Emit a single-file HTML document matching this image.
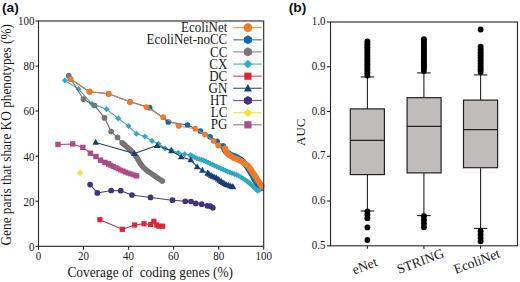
<!DOCTYPE html>
<html><head><meta charset="utf-8"><style>
html,body{margin:0;padding:0;background:#fff;}
svg{display:block;}
text{font-family:"Liberation Serif",serif;fill:#1a1a1a;}
.tk{font-size:11px;}
.lg{font-size:13px;}
.xl{font-size:13.6px;}
.ttl{font-size:13.5px;}
.pl{font-family:"Liberation Sans",sans-serif;font-weight:bold;font-size:13.8px;fill:#111;}
</style></head><body>
<svg width="520" height="282" viewBox="0 0 520 282">
<rect width="520" height="282" fill="#fff"/>
<text transform="translate(1.9 11.5) scale(1 0.95)" class="pl">(a)</text>
<text transform="translate(288.7 11.5) scale(1 0.95)" class="pl">(b)</text>
<polyline points="70.5,79.0 89.5,91.7 108.6,93.8 130.0,101.8 149.5,107.6 168.3,122.0 187.5,125.1 200.4,131.0 210.0,136.8 217.1,141.4 223.0,146.2 225.6,151.5 231.0,154.8 236.0,156.6 241.0,159.6 246.0,164.8 249.2,170.0 252.2,174.8 256.0,182.0 259.3,187.0 261.0,188.5" fill="none" stroke="#1d5a8c" stroke-width="1.05" stroke-linejoin="round"/>
<circle cx="70.5" cy="79.0" r="2.85" fill="#1267a8"/>
<circle cx="89.5" cy="91.7" r="2.85" fill="#1267a8"/>
<circle cx="108.6" cy="93.8" r="2.85" fill="#1267a8"/>
<circle cx="130.0" cy="101.8" r="2.85" fill="#1267a8"/>
<circle cx="149.5" cy="107.6" r="2.85" fill="#1267a8"/>
<circle cx="168.3" cy="122.0" r="2.85" fill="#1267a8"/>
<circle cx="187.5" cy="125.1" r="2.85" fill="#1267a8"/>
<circle cx="200.4" cy="131.0" r="2.85" fill="#1267a8"/>
<circle cx="210.0" cy="136.8" r="2.85" fill="#1267a8"/>
<circle cx="217.1" cy="141.4" r="2.85" fill="#1267a8"/>
<circle cx="223.0" cy="146.2" r="2.85" fill="#1267a8"/>
<circle cx="223.0" cy="146.2" r="2.85" fill="#1267a8"/>
<circle cx="223.7" cy="147.6" r="2.85" fill="#1267a8"/>
<circle cx="224.4" cy="149.1" r="2.85" fill="#1267a8"/>
<circle cx="225.1" cy="150.5" r="2.85" fill="#1267a8"/>
<circle cx="226.0" cy="151.8" r="2.85" fill="#1267a8"/>
<circle cx="227.4" cy="152.6" r="2.85" fill="#1267a8"/>
<circle cx="228.8" cy="153.4" r="2.85" fill="#1267a8"/>
<circle cx="230.1" cy="154.3" r="2.85" fill="#1267a8"/>
<circle cx="231.5" cy="155.0" r="2.85" fill="#1267a8"/>
<circle cx="233.0" cy="155.5" r="2.85" fill="#1267a8"/>
<circle cx="234.5" cy="156.1" r="2.85" fill="#1267a8"/>
<circle cx="236.0" cy="156.6" r="2.85" fill="#1267a8"/>
<circle cx="237.4" cy="157.5" r="2.85" fill="#1267a8"/>
<circle cx="238.8" cy="158.3" r="2.85" fill="#1267a8"/>
<circle cx="240.2" cy="159.1" r="2.85" fill="#1267a8"/>
<circle cx="241.4" cy="160.0" r="2.85" fill="#1267a8"/>
<circle cx="242.5" cy="161.2" r="2.85" fill="#1267a8"/>
<circle cx="243.6" cy="162.4" r="2.85" fill="#1267a8"/>
<circle cx="244.8" cy="163.5" r="2.85" fill="#1267a8"/>
<circle cx="245.9" cy="164.7" r="2.85" fill="#1267a8"/>
<circle cx="246.7" cy="166.0" r="2.85" fill="#1267a8"/>
<circle cx="247.6" cy="167.4" r="2.85" fill="#1267a8"/>
<circle cx="248.4" cy="168.7" r="2.85" fill="#1267a8"/>
<circle cx="249.3" cy="170.1" r="2.85" fill="#1267a8"/>
<circle cx="250.1" cy="171.4" r="2.85" fill="#1267a8"/>
<circle cx="251.0" cy="172.8" r="2.85" fill="#1267a8"/>
<circle cx="251.8" cy="174.2" r="2.85" fill="#1267a8"/>
<circle cx="252.6" cy="175.5" r="2.85" fill="#1267a8"/>
<circle cx="253.3" cy="177.0" r="2.85" fill="#1267a8"/>
<circle cx="254.1" cy="178.4" r="2.85" fill="#1267a8"/>
<circle cx="254.8" cy="179.8" r="2.85" fill="#1267a8"/>
<circle cx="255.6" cy="181.2" r="2.85" fill="#1267a8"/>
<circle cx="256.4" cy="182.6" r="2.85" fill="#1267a8"/>
<circle cx="257.3" cy="183.9" r="2.85" fill="#1267a8"/>
<circle cx="258.1" cy="185.3" r="2.85" fill="#1267a8"/>
<circle cx="259.0" cy="186.6" r="2.85" fill="#1267a8"/>
<circle cx="260.1" cy="187.7" r="2.85" fill="#1267a8"/>
<circle cx="261.0" cy="188.5" r="2.85" fill="#1267a8"/>
<polyline points="64.9,80.4 78.6,89.1 91.8,103.8 106.6,109.3 118.3,118.4 128.5,126.1 136.5,133.8 145.0,136.6 152.0,141.0 158.5,143.8 165.2,148.4 171.1,150.0 178.3,152.7 184.7,154.3 190.3,155.2 195.0,157.6 205.6,161.2 216.3,166.5 226.9,171.2 237.9,175.3 246.6,180.7 252.8,186.2 257.8,191.2 261.0,188.3" fill="none" stroke="#38a0b4" stroke-width="1.05" stroke-linejoin="round"/>
<path d="M64.9 77.4L67.9 80.4L64.9 83.4L61.9 80.4Z" fill="#30aac0"/>
<path d="M78.6 86.1L81.6 89.1L78.6 92.1L75.6 89.1Z" fill="#30aac0"/>
<path d="M91.8 100.8L94.8 103.8L91.8 106.8L88.8 103.8Z" fill="#30aac0"/>
<path d="M106.6 106.3L109.6 109.3L106.6 112.3L103.6 109.3Z" fill="#30aac0"/>
<path d="M118.3 115.4L121.3 118.4L118.3 121.4L115.3 118.4Z" fill="#30aac0"/>
<path d="M128.5 123.1L131.5 126.1L128.5 129.1L125.5 126.1Z" fill="#30aac0"/>
<path d="M136.5 130.8L139.5 133.8L136.5 136.8L133.5 133.8Z" fill="#30aac0"/>
<path d="M145.0 133.6L148.0 136.6L145.0 139.6L142.0 136.6Z" fill="#30aac0"/>
<path d="M152.0 138.0L155.0 141.0L152.0 144.0L149.0 141.0Z" fill="#30aac0"/>
<path d="M158.5 140.8L161.5 143.8L158.5 146.8L155.5 143.8Z" fill="#30aac0"/>
<path d="M165.2 145.4L168.2 148.4L165.2 151.4L162.2 148.4Z" fill="#30aac0"/>
<path d="M171.1 147.0L174.1 150.0L171.1 153.0L168.1 150.0Z" fill="#30aac0"/>
<path d="M178.3 149.7L181.3 152.7L178.3 155.7L175.3 152.7Z" fill="#30aac0"/>
<path d="M184.7 151.3L187.7 154.3L184.7 157.3L181.7 154.3Z" fill="#30aac0"/>
<path d="M190.3 152.2L193.3 155.2L190.3 158.2L187.3 155.2Z" fill="#30aac0"/>
<path d="M190.3 152.2L193.2 155.2L190.3 158.1L187.4 155.2Z" fill="#30aac0"/>
<path d="M192.4 153.3L195.4 156.3L192.4 159.2L189.5 156.3Z" fill="#30aac0"/>
<path d="M194.6 154.4L197.5 157.4L194.6 160.3L191.6 157.4Z" fill="#30aac0"/>
<path d="M196.8 155.3L199.8 158.2L196.8 161.2L193.9 158.2Z" fill="#30aac0"/>
<path d="M199.1 156.0L202.0 159.0L199.1 161.9L196.1 159.0Z" fill="#30aac0"/>
<path d="M201.4 156.8L204.3 159.8L201.4 162.7L198.4 159.8Z" fill="#30aac0"/>
<path d="M203.6 157.6L206.6 160.5L203.6 163.5L200.7 160.5Z" fill="#30aac0"/>
<path d="M205.9 158.4L208.8 161.3L205.9 164.3L202.9 161.3Z" fill="#30aac0"/>
<path d="M208.0 159.5L211.0 162.4L208.0 165.4L205.1 162.4Z" fill="#30aac0"/>
<path d="M210.2 160.5L213.1 163.5L210.2 166.4L207.2 163.5Z" fill="#30aac0"/>
<path d="M212.3 161.6L215.3 164.5L212.3 167.5L209.4 164.5Z" fill="#30aac0"/>
<path d="M214.5 162.7L217.4 165.6L214.5 168.6L211.5 165.6Z" fill="#30aac0"/>
<path d="M216.7 163.7L219.6 166.7L216.7 169.6L213.7 166.7Z" fill="#30aac0"/>
<path d="M218.8 164.7L221.8 167.6L218.8 170.6L215.9 167.6Z" fill="#30aac0"/>
<path d="M221.0 165.7L224.0 168.6L221.0 171.6L218.1 168.6Z" fill="#30aac0"/>
<path d="M223.2 166.6L226.2 169.6L223.2 172.5L220.3 169.6Z" fill="#30aac0"/>
<path d="M225.4 167.6L228.4 170.5L225.4 173.5L222.5 170.5Z" fill="#30aac0"/>
<path d="M227.6 168.5L230.6 171.5L227.6 174.4L224.7 171.5Z" fill="#30aac0"/>
<path d="M229.9 169.4L232.8 172.3L229.9 175.3L226.9 172.3Z" fill="#30aac0"/>
<path d="M232.1 170.2L235.1 173.2L232.1 176.1L229.2 173.2Z" fill="#30aac0"/>
<path d="M234.4 171.0L237.3 174.0L234.4 176.9L231.4 174.0Z" fill="#30aac0"/>
<path d="M236.6 171.9L239.6 174.8L236.6 177.8L233.7 174.8Z" fill="#30aac0"/>
<path d="M238.8 172.9L241.7 175.9L238.8 178.8L235.8 175.9Z" fill="#30aac0"/>
<path d="M240.8 174.2L243.8 177.1L240.8 180.1L237.9 177.1Z" fill="#30aac0"/>
<path d="M242.9 175.4L245.8 178.4L242.9 181.3L239.9 178.4Z" fill="#30aac0"/>
<path d="M244.9 176.7L247.9 179.7L244.9 182.6L242.0 179.7Z" fill="#30aac0"/>
<path d="M246.9 178.0L249.9 181.0L246.9 183.9L244.0 181.0Z" fill="#30aac0"/>
<path d="M248.7 179.6L251.7 182.6L248.7 185.5L245.8 182.6Z" fill="#30aac0"/>
<path d="M250.5 181.2L253.4 184.2L250.5 187.1L247.5 184.2Z" fill="#30aac0"/>
<path d="M252.3 182.8L255.2 185.8L252.3 188.7L249.3 185.8Z" fill="#30aac0"/>
<path d="M254.0 184.5L257.0 187.4L254.0 190.4L251.1 187.4Z" fill="#30aac0"/>
<path d="M255.7 186.2L258.7 189.1L255.7 192.1L252.8 189.1Z" fill="#30aac0"/>
<path d="M257.4 187.9L260.4 190.8L257.4 193.8L254.5 190.8Z" fill="#30aac0"/>
<path d="M259.2 187.0L262.1 190.0L259.2 192.9L256.2 190.0Z" fill="#30aac0"/>
<path d="M261.0 185.4L263.9 188.3L261.0 191.3L258.0 188.3Z" fill="#30aac0"/>
<path d="M261.0 185.4L263.9 188.3L261.0 191.2L258.1 188.3Z" fill="#30aac0"/>
<polyline points="68.7,75.7 83.5,99.2 94.5,105.5 104.5,117.9 111.1,131.6 117.5,137.4 122.0,142.7 126.0,146.0 131.0,150.5 136.0,156.2 142.1,166.1 147.0,170.5 152.0,174.0 157.0,177.5 162.3,181.0" fill="none" stroke="#666466" stroke-width="1.05" stroke-linejoin="round"/>
<circle cx="68.7" cy="75.7" r="2.85" fill="#787479"/>
<circle cx="83.5" cy="99.2" r="2.85" fill="#787479"/>
<circle cx="94.5" cy="105.5" r="2.85" fill="#787479"/>
<circle cx="104.5" cy="117.9" r="2.85" fill="#787479"/>
<circle cx="111.1" cy="131.6" r="2.85" fill="#787479"/>
<circle cx="117.5" cy="137.4" r="2.85" fill="#787479"/>
<circle cx="122.0" cy="142.7" r="2.65" fill="#787479"/>
<circle cx="123.2" cy="143.7" r="2.65" fill="#787479"/>
<circle cx="124.5" cy="144.7" r="2.65" fill="#787479"/>
<circle cx="125.7" cy="145.8" r="2.65" fill="#787479"/>
<circle cx="126.9" cy="146.8" r="2.65" fill="#787479"/>
<circle cx="128.1" cy="147.9" r="2.65" fill="#787479"/>
<circle cx="129.3" cy="149.0" r="2.65" fill="#787479"/>
<circle cx="130.5" cy="150.0" r="2.65" fill="#787479"/>
<circle cx="131.6" cy="151.2" r="2.65" fill="#787479"/>
<circle cx="132.6" cy="152.4" r="2.65" fill="#787479"/>
<circle cx="133.7" cy="153.6" r="2.65" fill="#787479"/>
<circle cx="134.8" cy="154.8" r="2.65" fill="#787479"/>
<circle cx="135.8" cy="156.0" r="2.65" fill="#787479"/>
<circle cx="136.7" cy="157.3" r="2.65" fill="#787479"/>
<circle cx="137.5" cy="158.7" r="2.65" fill="#787479"/>
<circle cx="138.4" cy="160.0" r="2.65" fill="#787479"/>
<circle cx="139.2" cy="161.4" r="2.65" fill="#787479"/>
<circle cx="140.0" cy="162.8" r="2.65" fill="#787479"/>
<circle cx="140.9" cy="164.1" r="2.65" fill="#787479"/>
<circle cx="141.7" cy="165.5" r="2.65" fill="#787479"/>
<circle cx="142.8" cy="166.7" r="2.65" fill="#787479"/>
<circle cx="143.9" cy="167.8" r="2.65" fill="#787479"/>
<circle cx="145.1" cy="168.8" r="2.65" fill="#787479"/>
<circle cx="146.3" cy="169.9" r="2.65" fill="#787479"/>
<circle cx="147.6" cy="170.9" r="2.65" fill="#787479"/>
<circle cx="148.9" cy="171.8" r="2.65" fill="#787479"/>
<circle cx="150.2" cy="172.7" r="2.65" fill="#787479"/>
<circle cx="151.5" cy="173.6" r="2.65" fill="#787479"/>
<circle cx="152.8" cy="174.6" r="2.65" fill="#787479"/>
<circle cx="154.1" cy="175.5" r="2.65" fill="#787479"/>
<circle cx="155.4" cy="176.4" r="2.65" fill="#787479"/>
<circle cx="156.7" cy="177.3" r="2.65" fill="#787479"/>
<circle cx="158.1" cy="178.2" r="2.65" fill="#787479"/>
<circle cx="159.4" cy="179.1" r="2.65" fill="#787479"/>
<circle cx="160.7" cy="180.0" r="2.65" fill="#787479"/>
<circle cx="162.1" cy="180.9" r="2.65" fill="#787479"/>
<circle cx="162.3" cy="181.0" r="2.65" fill="#787479"/>
<polyline points="95.7,142.4 134.3,153.6 157.1,145.5 171.4,150.8 181.2,156.9 190.8,159.8 197.2,166.8 202.4,170.4 207.8,173.2 211.8,176.0 216.3,177.8 220.3,181.0 226.3,184.6 233.1,186.9" fill="none" stroke="#1f3d66" stroke-width="1.05" stroke-linejoin="round"/>
<path d="M95.7 138.8L99.0 144.8L92.4 144.8Z" fill="#173f74"/>
<path d="M134.3 150.0L137.6 156.0L131.0 156.0Z" fill="#173f74"/>
<path d="M157.1 141.9L160.4 147.9L153.8 147.9Z" fill="#173f74"/>
<path d="M171.4 147.2L174.7 153.2L168.1 153.2Z" fill="#173f74"/>
<path d="M181.2 153.3L184.5 159.3L177.9 159.3Z" fill="#173f74"/>
<path d="M190.8 156.2L194.1 162.2L187.5 162.2Z" fill="#173f74"/>
<path d="M197.2 163.2L200.5 169.2L193.9 169.2Z" fill="#173f74"/>
<path d="M202.4 166.8L205.7 172.8L199.1 172.8Z" fill="#173f74"/>
<path d="M207.8 169.6L211.1 175.6L204.5 175.6Z" fill="#173f74"/>
<path d="M207.8 169.7L211.0 175.5L204.6 175.5Z" fill="#173f74"/>
<path d="M209.4 170.9L212.6 176.7L206.2 176.7Z" fill="#173f74"/>
<path d="M211.1 172.0L214.3 177.8L207.9 177.8Z" fill="#173f74"/>
<path d="M212.8 173.0L216.0 178.7L209.6 178.7Z" fill="#173f74"/>
<path d="M214.7 173.7L217.9 179.5L211.5 179.5Z" fill="#173f74"/>
<path d="M216.5 174.5L219.7 180.3L213.3 180.3Z" fill="#173f74"/>
<path d="M218.1 175.8L221.3 181.5L214.9 181.5Z" fill="#173f74"/>
<path d="M219.6 177.0L222.8 182.8L216.4 182.8Z" fill="#173f74"/>
<path d="M221.3 178.1L224.5 183.9L218.1 183.9Z" fill="#173f74"/>
<path d="M223.0 179.2L226.2 184.9L219.8 184.9Z" fill="#173f74"/>
<path d="M224.7 180.2L227.9 186.0L221.5 186.0Z" fill="#173f74"/>
<path d="M226.4 181.2L229.6 187.0L223.2 187.0Z" fill="#173f74"/>
<path d="M228.3 181.8L231.5 187.6L225.1 187.6Z" fill="#173f74"/>
<path d="M230.2 182.5L233.4 188.2L227.0 188.2Z" fill="#173f74"/>
<path d="M232.1 183.1L235.3 188.9L228.9 188.9Z" fill="#173f74"/>
<path d="M233.1 183.4L236.3 189.2L229.9 189.2Z" fill="#173f74"/>
<polyline points="70.5,79.0 89.5,91.7 108.6,93.8 130.0,101.8 146.5,107.0 163.2,117.2 178.7,125.9 195.2,128.7 205.0,134.5 213.6,140.8 218.2,145.4 225.1,148.3 227.2,153.5 233.0,157.5 237.7,159.5 242.0,161.5 247.5,165.3 250.5,169.0 253.3,173.1 258.2,181.0 261.8,186.0" fill="none" stroke="#dc8446" stroke-width="1.05" stroke-linejoin="round"/>
<circle cx="70.5" cy="79.0" r="2.85" fill="#ef7b28"/>
<circle cx="89.5" cy="91.7" r="2.85" fill="#ef7b28"/>
<circle cx="108.6" cy="93.8" r="2.85" fill="#ef7b28"/>
<circle cx="130.0" cy="101.8" r="2.85" fill="#ef7b28"/>
<circle cx="146.5" cy="107.0" r="2.85" fill="#ef7b28"/>
<circle cx="163.2" cy="117.2" r="2.85" fill="#ef7b28"/>
<circle cx="178.7" cy="125.9" r="2.85" fill="#ef7b28"/>
<circle cx="195.2" cy="128.7" r="2.85" fill="#ef7b28"/>
<circle cx="205.0" cy="134.5" r="2.85" fill="#ef7b28"/>
<circle cx="213.6" cy="140.8" r="2.85" fill="#ef7b28"/>
<circle cx="218.2" cy="145.4" r="2.85" fill="#ef7b28"/>
<circle cx="225.1" cy="148.3" r="2.85" fill="#ef7b28"/>
<circle cx="225.1" cy="148.3" r="2.85" fill="#ef7b28"/>
<circle cx="225.7" cy="149.8" r="2.85" fill="#ef7b28"/>
<circle cx="226.3" cy="151.3" r="2.85" fill="#ef7b28"/>
<circle cx="226.9" cy="152.8" r="2.85" fill="#ef7b28"/>
<circle cx="227.9" cy="153.9" r="2.85" fill="#ef7b28"/>
<circle cx="229.2" cy="154.9" r="2.85" fill="#ef7b28"/>
<circle cx="230.5" cy="155.8" r="2.85" fill="#ef7b28"/>
<circle cx="231.8" cy="156.7" r="2.85" fill="#ef7b28"/>
<circle cx="233.1" cy="157.6" r="2.85" fill="#ef7b28"/>
<circle cx="234.6" cy="158.2" r="2.85" fill="#ef7b28"/>
<circle cx="236.1" cy="158.8" r="2.85" fill="#ef7b28"/>
<circle cx="237.6" cy="159.4" r="2.85" fill="#ef7b28"/>
<circle cx="239.0" cy="160.1" r="2.85" fill="#ef7b28"/>
<circle cx="240.5" cy="160.8" r="2.85" fill="#ef7b28"/>
<circle cx="241.9" cy="161.5" r="2.85" fill="#ef7b28"/>
<circle cx="243.2" cy="162.4" r="2.85" fill="#ef7b28"/>
<circle cx="244.5" cy="163.3" r="2.85" fill="#ef7b28"/>
<circle cx="245.9" cy="164.2" r="2.85" fill="#ef7b28"/>
<circle cx="247.2" cy="165.1" r="2.85" fill="#ef7b28"/>
<circle cx="248.3" cy="166.2" r="2.85" fill="#ef7b28"/>
<circle cx="249.3" cy="167.5" r="2.85" fill="#ef7b28"/>
<circle cx="250.3" cy="168.7" r="2.85" fill="#ef7b28"/>
<circle cx="251.2" cy="170.0" r="2.85" fill="#ef7b28"/>
<circle cx="252.1" cy="171.4" r="2.85" fill="#ef7b28"/>
<circle cx="253.0" cy="172.7" r="2.85" fill="#ef7b28"/>
<circle cx="253.9" cy="174.0" r="2.85" fill="#ef7b28"/>
<circle cx="254.7" cy="175.4" r="2.85" fill="#ef7b28"/>
<circle cx="255.6" cy="176.7" r="2.85" fill="#ef7b28"/>
<circle cx="256.4" cy="178.1" r="2.85" fill="#ef7b28"/>
<circle cx="257.2" cy="179.5" r="2.85" fill="#ef7b28"/>
<circle cx="258.1" cy="180.8" r="2.85" fill="#ef7b28"/>
<circle cx="259.0" cy="182.1" r="2.85" fill="#ef7b28"/>
<circle cx="259.9" cy="183.4" r="2.85" fill="#ef7b28"/>
<circle cx="260.9" cy="184.7" r="2.85" fill="#ef7b28"/>
<circle cx="261.8" cy="186.0" r="2.85" fill="#ef7b28"/>
<polyline points="90.1,184.6 97.3,192.9 111.2,190.5 120.7,190.7 131.9,195.0 150.5,197.4 172.5,200.2 185.3,201.3 191.0,201.5 195.8,203.4 201.7,204.2 207.3,205.8 210.5,206.2 212.9,207.8" fill="none" stroke="#4c4078" stroke-width="1.05" stroke-linejoin="round"/>
<circle cx="90.1" cy="184.6" r="2.85" fill="#45307f"/>
<circle cx="97.3" cy="192.9" r="2.85" fill="#45307f"/>
<circle cx="111.2" cy="190.5" r="2.85" fill="#45307f"/>
<circle cx="120.7" cy="190.7" r="2.85" fill="#45307f"/>
<circle cx="131.9" cy="195.0" r="2.85" fill="#45307f"/>
<circle cx="150.5" cy="197.4" r="2.85" fill="#45307f"/>
<circle cx="172.5" cy="200.2" r="2.85" fill="#45307f"/>
<circle cx="185.3" cy="201.3" r="2.85" fill="#45307f"/>
<circle cx="191.0" cy="201.5" r="2.85" fill="#45307f"/>
<circle cx="195.8" cy="203.4" r="2.85" fill="#45307f"/>
<circle cx="201.7" cy="204.2" r="2.85" fill="#45307f"/>
<circle cx="207.3" cy="205.8" r="2.85" fill="#45307f"/>
<circle cx="210.5" cy="206.2" r="2.85" fill="#45307f"/>
<circle cx="212.9" cy="207.8" r="2.85" fill="#45307f"/>
<polyline points="99.9,219.7 122.3,229.3 134.7,225.0 144.0,223.8 150.7,224.5 153.9,221.3 156.8,225.0 159.0,226.2 162.7,226.2" fill="none" stroke="#b8344a" stroke-width="1.05" stroke-linejoin="round"/>
<rect x="97.3" y="217.1" width="5.2" height="5.2" fill="#dc2539"/>
<rect x="119.7" y="226.7" width="5.2" height="5.2" fill="#dc2539"/>
<rect x="132.1" y="222.4" width="5.2" height="5.2" fill="#dc2539"/>
<rect x="141.4" y="221.2" width="5.2" height="5.2" fill="#dc2539"/>
<rect x="148.1" y="221.9" width="5.2" height="5.2" fill="#dc2539"/>
<rect x="151.3" y="218.7" width="5.2" height="5.2" fill="#dc2539"/>
<rect x="154.2" y="222.4" width="5.2" height="5.2" fill="#dc2539"/>
<rect x="156.4" y="223.6" width="5.2" height="5.2" fill="#dc2539"/>
<rect x="160.1" y="223.6" width="5.2" height="5.2" fill="#dc2539"/>
<polyline points="58.0,144.4 72.7,143.9 82.8,147.4 90.4,153.2 96.0,156.5 100.6,160.2 104.9,162.4 108.6,163.9 112.4,166.1 119.8,169.6 127.3,172.8 136.8,176.0" fill="none" stroke="#9a4a7c" stroke-width="1.05" stroke-linejoin="round"/>
<rect x="55.3" y="141.7" width="5.4" height="5.4" fill="#ad4c88"/>
<rect x="70.0" y="141.2" width="5.4" height="5.4" fill="#ad4c88"/>
<rect x="80.1" y="144.7" width="5.4" height="5.4" fill="#ad4c88"/>
<rect x="87.7" y="150.5" width="5.4" height="5.4" fill="#ad4c88"/>
<rect x="93.3" y="153.8" width="5.4" height="5.4" fill="#ad4c88"/>
<rect x="97.9" y="157.5" width="5.4" height="5.4" fill="#ad4c88"/>
<rect x="102.2" y="159.7" width="5.4" height="5.4" fill="#ad4c88"/>
<rect x="105.9" y="161.2" width="5.4" height="5.4" fill="#ad4c88"/>
<rect x="106.1" y="161.4" width="5.0" height="5.0" fill="#ad4c88"/>
<rect x="108.4" y="162.8" width="5.0" height="5.0" fill="#ad4c88"/>
<rect x="110.8" y="164.0" width="5.0" height="5.0" fill="#ad4c88"/>
<rect x="113.3" y="165.2" width="5.0" height="5.0" fill="#ad4c88"/>
<rect x="115.7" y="166.3" width="5.0" height="5.0" fill="#ad4c88"/>
<rect x="118.1" y="167.5" width="5.0" height="5.0" fill="#ad4c88"/>
<rect x="120.6" y="168.5" width="5.0" height="5.0" fill="#ad4c88"/>
<rect x="123.1" y="169.6" width="5.0" height="5.0" fill="#ad4c88"/>
<rect x="125.6" y="170.6" width="5.0" height="5.0" fill="#ad4c88"/>
<rect x="128.2" y="171.4" width="5.0" height="5.0" fill="#ad4c88"/>
<rect x="130.7" y="172.3" width="5.0" height="5.0" fill="#ad4c88"/>
<rect x="133.3" y="173.2" width="5.0" height="5.0" fill="#ad4c88"/>
<rect x="134.3" y="173.5" width="5.0" height="5.0" fill="#ad4c88"/>
<path d="M80.1 169.4L83.4 172.7L80.1 176.0L76.8 172.7Z" fill="#f4e03a"/>
<rect x="38.5" y="21.0" width="225.2" height="225.3" fill="none" stroke="#262626" stroke-width="1.1"/>
<line x1="35.5" y1="246.3" x2="38.5" y2="246.3" stroke="#262626" stroke-width="1.1"/>
<text transform="translate(34.5 246.5) scale(1 1.12)" y="3.7" text-anchor="end" class="tk">0</text>
<line x1="38.5" y1="246.3" x2="38.5" y2="249.8" stroke="#262626" stroke-width="1.1"/>
<text transform="translate(38.5 259.8) scale(1 1.12)" text-anchor="middle" class="tk">0</text>
<line x1="35.5" y1="201.2" x2="38.5" y2="201.2" stroke="#262626" stroke-width="1.1"/>
<text transform="translate(34.5 201.4) scale(1 1.12)" y="3.7" text-anchor="end" class="tk">20</text>
<line x1="83.5" y1="246.3" x2="83.5" y2="249.8" stroke="#262626" stroke-width="1.1"/>
<text transform="translate(83.5 259.8) scale(1 1.12)" text-anchor="middle" class="tk">20</text>
<line x1="35.5" y1="156.2" x2="38.5" y2="156.2" stroke="#262626" stroke-width="1.1"/>
<text transform="translate(34.5 156.4) scale(1 1.12)" y="3.7" text-anchor="end" class="tk">40</text>
<line x1="128.6" y1="246.3" x2="128.6" y2="249.8" stroke="#262626" stroke-width="1.1"/>
<text transform="translate(128.6 259.8) scale(1 1.12)" text-anchor="middle" class="tk">40</text>
<line x1="35.5" y1="111.1" x2="38.5" y2="111.1" stroke="#262626" stroke-width="1.1"/>
<text transform="translate(34.5 111.3) scale(1 1.12)" y="3.7" text-anchor="end" class="tk">60</text>
<line x1="173.6" y1="246.3" x2="173.6" y2="249.8" stroke="#262626" stroke-width="1.1"/>
<text transform="translate(173.6 259.8) scale(1 1.12)" text-anchor="middle" class="tk">60</text>
<line x1="35.5" y1="66.1" x2="38.5" y2="66.1" stroke="#262626" stroke-width="1.1"/>
<text transform="translate(34.5 66.3) scale(1 1.12)" y="3.7" text-anchor="end" class="tk">80</text>
<line x1="218.7" y1="246.3" x2="218.7" y2="249.8" stroke="#262626" stroke-width="1.1"/>
<text transform="translate(218.7 259.8) scale(1 1.12)" text-anchor="middle" class="tk">80</text>
<line x1="35.5" y1="21.0" x2="38.5" y2="21.0" stroke="#262626" stroke-width="1.1"/>
<text transform="translate(34.5 21.2) scale(1 1.12)" y="3.7" text-anchor="end" class="tk">100</text>
<line x1="263.7" y1="246.3" x2="263.7" y2="249.8" stroke="#262626" stroke-width="1.1"/>
<text transform="translate(263.7 259.8) scale(1 1.12)" text-anchor="middle" class="tk">100</text>
<text transform="translate(227.3 32.2) scale(1 1.1)" text-anchor="end" class="lg">EcoliNet</text>
<line x1="233.2" y1="27.6" x2="261.8" y2="27.6" stroke="#ef7b28" stroke-width="1.3" stroke-opacity="0.75"/>
<circle cx="247.9" cy="27.6" r="4.3" fill="#ef7b28"/>
<text transform="translate(227.3 44.4) scale(1 1.1)" text-anchor="end" class="lg">EcoliNet-noCC</text>
<line x1="233.2" y1="39.8" x2="261.8" y2="39.8" stroke="#1267a8" stroke-width="1.3" stroke-opacity="0.75"/>
<polygon points="247.90,35.15 251.88,37.45 251.88,42.05 247.90,44.35 243.92,42.05 243.92,37.45" fill="#1267a8"/>
<text transform="translate(227.3 56.5) scale(1 1.1)" text-anchor="end" class="lg">CC</text>
<line x1="233.2" y1="51.9" x2="261.8" y2="51.9" stroke="#787479" stroke-width="1.3" stroke-opacity="0.75"/>
<polygon points="247.90,47.30 251.88,49.60 251.88,54.20 247.90,56.50 243.92,54.20 243.92,49.60" fill="#787479"/>
<text transform="translate(227.3 68.7) scale(1 1.1)" text-anchor="end" class="lg">CX</text>
<line x1="233.2" y1="64.1" x2="261.8" y2="64.1" stroke="#30aac0" stroke-width="1.3" stroke-opacity="0.75"/>
<path d="M247.9 59.8L252.2 64.1L247.9 68.4L243.6 64.1Z" fill="#30aac0"/>
<text transform="translate(227.3 80.8) scale(1 1.1)" text-anchor="end" class="lg">DC</text>
<line x1="233.2" y1="76.2" x2="261.8" y2="76.2" stroke="#dc2539" stroke-width="1.3" stroke-opacity="0.75"/>
<rect x="244.3" y="72.6" width="7.2" height="7.2" fill="#dc2539"/>
<text transform="translate(227.3 92.9) scale(1 1.1)" text-anchor="end" class="lg">GN</text>
<line x1="233.2" y1="88.3" x2="261.8" y2="88.3" stroke="#173f74" stroke-width="1.3" stroke-opacity="0.75"/>
<path d="M247.9 84.1L251.9 91.5L243.9 91.5Z" fill="#173f74"/>
<text transform="translate(227.3 105.1) scale(1 1.1)" text-anchor="end" class="lg">HT</text>
<line x1="233.2" y1="100.5" x2="261.8" y2="100.5" stroke="#45307f" stroke-width="1.3" stroke-opacity="0.75"/>
<polygon points="247.90,95.90 251.88,98.20 251.88,102.80 247.90,105.10 243.92,102.80 243.92,98.20" fill="#45307f"/>
<text transform="translate(227.3 117.2) scale(1 1.1)" text-anchor="end" class="lg">LC</text>
<line x1="233.2" y1="112.7" x2="261.8" y2="112.7" stroke="#f4e03a" stroke-width="1.3" stroke-opacity="0.75"/>
<path d="M247.9 108.4L252.2 112.7L247.9 117.0L243.6 112.7Z" fill="#f4e03a"/>
<text transform="translate(227.3 129.4) scale(1 1.1)" text-anchor="end" class="lg">PG</text>
<line x1="233.2" y1="124.8" x2="261.8" y2="124.8" stroke="#ad4c88" stroke-width="1.3" stroke-opacity="0.75"/>
<rect x="244.3" y="121.2" width="7.2" height="7.2" fill="#ad4c88"/>
<text transform="translate(150.2 277.4) scale(1 1.08)" text-anchor="middle" class="ttl" style="font-size:13.35px" xml:space="preserve">Coverage of  coding genes (%)</text>
<text transform="translate(10.9 134.8) rotate(-90) scale(1 1.1)" text-anchor="middle" class="ttl" style="font-size:13.3px">Gene paris that share KO phenotypes (%)</text>
<text transform="translate(305.4 132.2) rotate(-90)" text-anchor="middle" class="xl" style="font-size:13px">AUC</text>
<rect x="330.5" y="22.0" width="187.0" height="223.8" fill="none" stroke="#262626" stroke-width="1.1"/>
<line x1="327.0" y1="245.8" x2="330.5" y2="245.8" stroke="#262626" stroke-width="1.1"/>
<text transform="translate(325.5 244.8) scale(1 1.12)" y="3.7" text-anchor="end" class="tk">0.5</text>
<line x1="327.0" y1="201.0" x2="330.5" y2="201.0" stroke="#262626" stroke-width="1.1"/>
<text transform="translate(325.5 200.0) scale(1 1.12)" y="3.7" text-anchor="end" class="tk">0.6</text>
<line x1="327.0" y1="156.3" x2="330.5" y2="156.3" stroke="#262626" stroke-width="1.1"/>
<text transform="translate(325.5 155.3) scale(1 1.12)" y="3.7" text-anchor="end" class="tk">0.7</text>
<line x1="327.0" y1="111.5" x2="330.5" y2="111.5" stroke="#262626" stroke-width="1.1"/>
<text transform="translate(325.5 110.5) scale(1 1.12)" y="3.7" text-anchor="end" class="tk">0.8</text>
<line x1="327.0" y1="66.8" x2="330.5" y2="66.8" stroke="#262626" stroke-width="1.1"/>
<text transform="translate(325.5 65.8) scale(1 1.12)" y="3.7" text-anchor="end" class="tk">0.9</text>
<line x1="327.0" y1="22.0" x2="330.5" y2="22.0" stroke="#262626" stroke-width="1.1"/>
<text transform="translate(325.5 21.0) scale(1 1.12)" y="3.7" text-anchor="end" class="tk">1.0</text>
<line x1="367.4" y1="77.0" x2="367.4" y2="211.0" stroke="#222" stroke-width="1.1"/>
<line x1="360.6" y1="77.0" x2="374.2" y2="77.0" stroke="#222" stroke-width="1.1"/>
<line x1="360.6" y1="211.0" x2="374.2" y2="211.0" stroke="#222" stroke-width="1.1"/>
<rect x="350.3" y="108.9" width="34.1" height="65.7" fill="#c0bcbc" stroke="#222" stroke-width="1.2"/>
<line x1="350.3" y1="140.3" x2="384.4" y2="140.3" stroke="#222" stroke-width="1.3"/>
<line x1="367.4" y1="42.5" x2="367.4" y2="74.5" stroke="#000" stroke-width="5.2"/>
<circle cx="367.4" cy="41.5" r="2.95" fill="#000"/>
<circle cx="367.4" cy="44.3" r="2.95" fill="#000"/>
<circle cx="367.4" cy="47.2" r="2.95" fill="#000"/>
<circle cx="367.4" cy="50.0" r="2.95" fill="#000"/>
<circle cx="367.4" cy="52.8" r="2.95" fill="#000"/>
<circle cx="367.4" cy="55.7" r="2.95" fill="#000"/>
<circle cx="367.4" cy="58.5" r="2.95" fill="#000"/>
<circle cx="367.4" cy="61.3" r="2.95" fill="#000"/>
<circle cx="367.4" cy="64.2" r="2.95" fill="#000"/>
<circle cx="367.4" cy="67.0" r="2.95" fill="#000"/>
<circle cx="367.4" cy="69.8" r="2.95" fill="#000"/>
<circle cx="367.4" cy="72.7" r="2.95" fill="#000"/>
<circle cx="367.4" cy="75.5" r="2.95" fill="#000"/>
<circle cx="367.4" cy="211.5" r="2.95" fill="#000"/>
<circle cx="367.4" cy="214.8" r="2.95" fill="#000"/>
<circle cx="367.4" cy="218.2" r="2.95" fill="#000"/>
<circle cx="367.4" cy="227.4" r="2.9" fill="#000"/>
<circle cx="367.4" cy="240.0" r="2.9" fill="#000"/>
<line x1="367.4" y1="245.8" x2="367.4" y2="248.8" stroke="#262626" stroke-width="1.1"/>
<line x1="423.9" y1="72.9" x2="423.9" y2="215.6" stroke="#222" stroke-width="1.1"/>
<line x1="417.1" y1="72.9" x2="430.7" y2="72.9" stroke="#222" stroke-width="1.1"/>
<line x1="417.1" y1="215.6" x2="430.7" y2="215.6" stroke="#222" stroke-width="1.1"/>
<rect x="407.1" y="97.7" width="34.0" height="75.2" fill="#c0bcbc" stroke="#222" stroke-width="1.2"/>
<line x1="407.1" y1="126.4" x2="441.1" y2="126.4" stroke="#222" stroke-width="1.3"/>
<line x1="423.9" y1="40.2" x2="423.9" y2="70.0" stroke="#000" stroke-width="5.2"/>
<circle cx="423.9" cy="39.2" r="2.95" fill="#000"/>
<circle cx="423.9" cy="42.1" r="2.95" fill="#000"/>
<circle cx="423.9" cy="45.0" r="2.95" fill="#000"/>
<circle cx="423.9" cy="47.9" r="2.95" fill="#000"/>
<circle cx="423.9" cy="50.8" r="2.95" fill="#000"/>
<circle cx="423.9" cy="53.7" r="2.95" fill="#000"/>
<circle cx="423.9" cy="56.5" r="2.95" fill="#000"/>
<circle cx="423.9" cy="59.4" r="2.95" fill="#000"/>
<circle cx="423.9" cy="62.3" r="2.95" fill="#000"/>
<circle cx="423.9" cy="65.2" r="2.95" fill="#000"/>
<circle cx="423.9" cy="68.1" r="2.95" fill="#000"/>
<circle cx="423.9" cy="71.0" r="2.95" fill="#000"/>
<circle cx="423.9" cy="216.2" r="2.95" fill="#000"/>
<circle cx="423.9" cy="219.9" r="2.95" fill="#000"/>
<circle cx="423.9" cy="223.6" r="2.95" fill="#000"/>
<circle cx="423.9" cy="227.3" r="2.95" fill="#000"/>
<line x1="423.9" y1="245.8" x2="423.9" y2="248.8" stroke="#262626" stroke-width="1.1"/>
<line x1="480.6" y1="74.9" x2="480.6" y2="228.4" stroke="#222" stroke-width="1.1"/>
<line x1="473.8" y1="74.9" x2="487.4" y2="74.9" stroke="#222" stroke-width="1.1"/>
<line x1="473.8" y1="228.4" x2="487.4" y2="228.4" stroke="#222" stroke-width="1.1"/>
<rect x="463.5" y="100.1" width="34.1" height="67.6" fill="#c0bcbc" stroke="#222" stroke-width="1.2"/>
<line x1="463.5" y1="129.7" x2="497.6" y2="129.7" stroke="#222" stroke-width="1.3"/>
<line x1="480.6" y1="47.8" x2="480.6" y2="71.0" stroke="#000" stroke-width="5.2"/>
<circle cx="480.6" cy="46.8" r="2.95" fill="#000"/>
<circle cx="480.6" cy="49.6" r="2.95" fill="#000"/>
<circle cx="480.6" cy="52.4" r="2.95" fill="#000"/>
<circle cx="480.6" cy="55.2" r="2.95" fill="#000"/>
<circle cx="480.6" cy="58.0" r="2.95" fill="#000"/>
<circle cx="480.6" cy="60.8" r="2.95" fill="#000"/>
<circle cx="480.6" cy="63.6" r="2.95" fill="#000"/>
<circle cx="480.6" cy="66.4" r="2.95" fill="#000"/>
<circle cx="480.6" cy="69.2" r="2.95" fill="#000"/>
<circle cx="480.6" cy="72.0" r="2.95" fill="#000"/>
<circle cx="480.6" cy="29.5" r="2.9" fill="#000"/>
<circle cx="480.6" cy="231.2" r="2.95" fill="#000"/>
<circle cx="480.6" cy="234.6" r="2.95" fill="#000"/>
<circle cx="480.6" cy="237.9" r="2.95" fill="#000"/>
<circle cx="480.6" cy="241.3" r="2.95" fill="#000"/>
<line x1="480.6" y1="245.8" x2="480.6" y2="248.8" stroke="#262626" stroke-width="1.1"/>
<text x="366.3" y="270" text-anchor="middle" class="xl" transform="rotate(-20.5 366.3 270)">eNet</text>
<text x="422" y="265.5" text-anchor="middle" class="xl" transform="rotate(-20.5 422 265.5)">STRING</text>
<text x="478.3" y="265.5" text-anchor="middle" class="xl" transform="rotate(-20.5 478.3 265.5)">EcoliNet</text>
</svg>
</body></html>
